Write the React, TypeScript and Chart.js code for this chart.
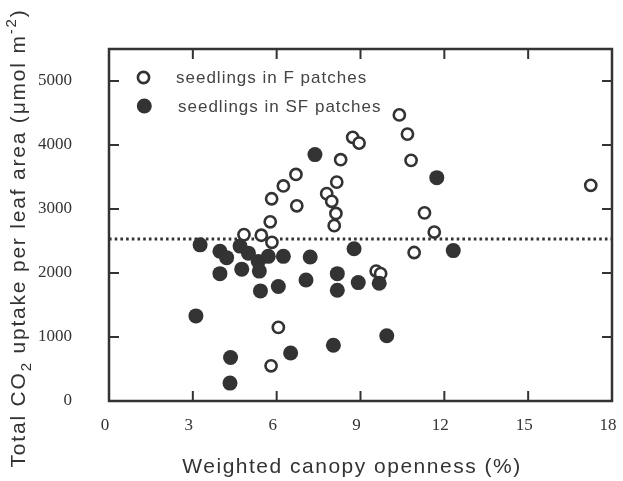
import React, { useEffect, useRef } from "react";
import { Chart, registerables } from "chart.js";

Chart.register(...registerables);

// ---- data ----
const xTicks = [0, 3, 6, 9, 12, 15, 18];
const yTicks = [0, 1000, 2000, 3000, 4000, 5000];

const openX = [4.83, 5.45, 5.77, 5.83, 5.82, 6.24, 6.69, 6.72, 7.79, 7.97, 8.15, 8.12, 8.06, 8.29, 8.72, 8.95, 10.39, 10.68, 10.81, 11.29, 11.64, 10.92, 9.56, 9.72, 17.24, 6.06, 5.8];
const openY = [2600, 2590, 2800, 2480, 3160, 3360, 3540, 3050, 3240, 3120, 3420, 2930, 2740, 3770, 4120, 4030, 4470, 4170, 3760, 2940, 2640, 2320, 2030, 1990, 3370, 1150, 550];

const closedX = [3.11, 3.26, 3.97, 4.21, 3.97, 4.69, 4.99, 4.75, 5.34, 5.7, 5.38, 5.42, 6.06, 6.24, 7.2, 7.05, 8.17, 8.17, 8.77, 8.92, 9.67, 12.32, 9.94, 4.35, 4.33, 6.5, 8.03, 7.37, 11.73];
const closedY = [1330, 2440, 2340, 2240, 1990, 2420, 2310, 2060, 2180, 2260, 2030, 1720, 1790, 2260, 2250, 1890, 1990, 1730, 2380, 1850, 1840, 2350, 1020, 680, 280, 750, 870, 3850, 3490];

const thresholdY = 2530;
const seriesLabels = ["seedlings in F patches", "seedlings in SF patches"];
const xTitle = "Weighted canopy openness (%)";

const INK = "#333333";

const framePlugin = {
  id: "frameAndText",
  afterDraw(chart: any) {
    const { ctx, chartArea: a, scales } = chart;
    ctx.save();
    // frame
    ctx.strokeStyle = INK;
    ctx.lineWidth = 2.5;
    ctx.strokeRect(a.left, a.top, a.right - a.left, a.bottom - a.top);
    // inward ticks
    ctx.lineWidth = 2;
    ctx.beginPath();
    xTicks.forEach((v) => {
      if (v === xTicks[0] || v === xTicks[xTicks.length - 1]) return;
      const px = scales.x.getPixelForValue(v);
      ctx.moveTo(px, a.bottom);
      ctx.lineTo(px, a.bottom - 10);
      ctx.moveTo(px, a.top);
      ctx.lineTo(px, a.top + 10);
    });
    yTicks.forEach((v) => {
      if (v === 0) return;
      const py = scales.y.getPixelForValue(v);
      ctx.moveTo(a.left, py);
      ctx.lineTo(a.left + 10, py);
      ctx.moveTo(a.right, py);
      ctx.lineTo(a.right - 10, py);
    });
    ctx.stroke();

    // legend
    ctx.fillStyle = "#ffffff";
    ctx.strokeStyle = INK;
    ctx.lineWidth = 2.6;
    ctx.beginPath();
    ctx.arc(143.5, 77.5, 5.6, 0, Math.PI * 2);
    ctx.fill();
    ctx.stroke();
    ctx.fillStyle = INK;
    ctx.beginPath();
    ctx.arc(144.3, 106, 7.5, 0, Math.PI * 2);
    ctx.fill();

    ctx.fillStyle = "#444444";
    ctx.font = '17px "Liberation Sans"';
    (ctx as any).letterSpacing = "1px";
    ctx.textAlign = "left";
    ctx.textBaseline = "alphabetic";
    ctx.fillText(seriesLabels[0], 176, 83);
    ctx.fillText(seriesLabels[1], 178, 112);

    // x title
    ctx.fillStyle = INK;
    ctx.font = '21px "Liberation Sans"';
    (ctx as any).letterSpacing = "1.5px";
    ctx.textAlign = "center";
    ctx.fillText(xTitle, 352, 473);

    // y title with sub/superscripts
    (ctx as any).letterSpacing = "1.8px";
    const segs = [
      { t: "Total CO", s: 21, dy: 0 },
      { t: "2", s: 15, dy: 6 },
      { t: " uptake per leaf area (\u03bcmol m", s: 21, dy: 0 },
      { t: "-2", s: 15, dy: -9 },
      { t: ")", s: 21, dy: 0 },
    ];
    ctx.textAlign = "left";
    let total = 0;
    const widths = segs.map((sg) => {
      ctx.font = `${sg.s}px "Liberation Sans"`;
      const w = ctx.measureText(sg.t).width;
      total += w;
      return w;
    });
    ctx.translate(25, 238);
    ctx.rotate(-Math.PI / 2);
    let x = -total / 2;
    segs.forEach((sg, i) => {
      ctx.font = `${sg.s}px "Liberation Sans"`;
      ctx.fillText(sg.t, x, sg.dy);
      x += widths[i];
    });
    ctx.restore();
  },
};

export default function App() {
  const ref = useRef<HTMLCanvasElement | null>(null);

  useEffect(() => {
    if (!ref.current) return;
    const chart = new Chart(ref.current, {
      type: "scatter",
      data: {
        datasets: [
          {
            label: seriesLabels[1],
            data: closedX.map((x, i) => ({ x, y: closedY[i] })),
            backgroundColor: INK,
            borderColor: INK,
            borderWidth: 0,
            pointRadius: 7.5,
            pointHoverRadius: 7.5,
          },
          {
            label: seriesLabels[0],
            data: openX.map((x, i) => ({ x, y: openY[i] })),
            backgroundColor: "#ffffff",
            borderColor: INK,
            borderWidth: 2.6,
            pointRadius: 5.6,
            pointHoverRadius: 5.6,
          },
          {
            type: "line",
            label: "threshold",
            data: [
              { x: xTicks[0], y: thresholdY },
              { x: xTicks[xTicks.length - 1], y: thresholdY },
            ],
            borderColor: INK,
            borderWidth: 3,
            borderDash: [2.6, 3.1],
            borderCapStyle: "butt",
            pointRadius: 0,
            fill: false,
          } as any,
        ],
      },
      options: {
        animation: false,
        responsive: true,
        maintainAspectRatio: false,
        layout: { padding: { top: 49, right: 11, left: 0, bottom: 0 } },
        plugins: {
          legend: { display: false },
          tooltip: { enabled: false },
        },
        scales: {
          x: {
            type: "linear",
            min: 0,
            max: 18,
            grid: { display: false, drawTicks: false },
            border: { display: false },
            afterBuildTicks: (s: any) => {
              s.ticks = xTicks.map((v) => ({ value: v }));
            },
            afterFit: (s: any) => {
              s.height = 80;
              s.paddingLeft = 0;
              s.paddingRight = 0;
            },
            ticks: {
              color: INK,
              font: { family: "Liberation Serif", size: 17 },
              padding: 14,
              labelOffset: -4,
              maxRotation: 0,
              autoSkip: false,
              callback: (v: any) => String(v),
            },
          },
          y: {
            type: "linear",
            min: 0,
            max: 5500,
            grid: { display: false, drawTicks: false },
            border: { display: false },
            afterBuildTicks: (s: any) => {
              s.ticks = yTicks.map((v) => ({ value: v }));
            },
            afterFit: (s: any) => {
              s.width = 109;
              s.paddingTop = 0;
              s.paddingBottom = 0;
            },
            ticks: {
              color: INK,
              font: { family: "Liberation Serif", size: 17 },
              padding: 37,
              autoSkip: false,
              callback: (v: any) => String(v),
            },
          },
        },
      },
      plugins: [framePlugin],
    });
    return () => chart.destroy();
  }, []);

  return (
    <div style={{ position: "fixed", left: 0, top: 0, width: 623, height: 481, background: "#fff" }}>
      <canvas ref={ref} style={{ display: "block" }} />
    </div>
  );
}
